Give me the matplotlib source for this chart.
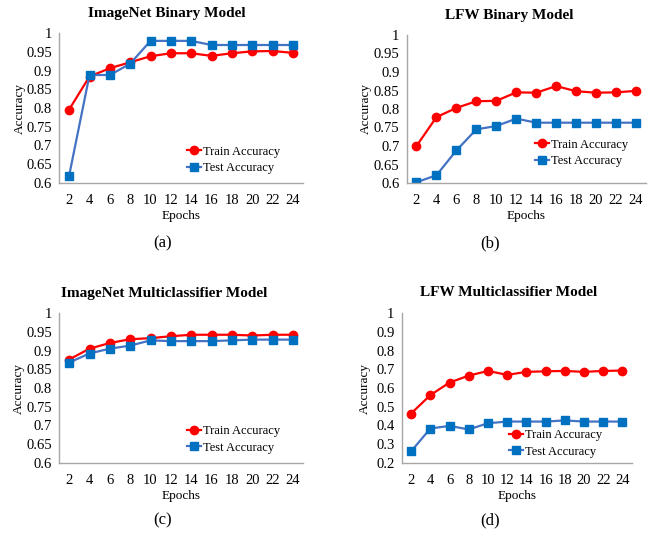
import matplotlib.pyplot as plt

plt.rcParams['font.family'] = ['Liberation Serif', 'DejaVu Serif']

epochs = [2, 4, 6, 8, 10, 12, 14, 16, 18, 20, 22, 24]

# (a) ImageNet binary
inb_train = [0.796, 0.884, 0.906, 0.922, 0.938, 0.946, 0.946, 0.939, 0.946, 0.951, 0.952, 0.947]
inb_test = [0.620, 0.888, 0.888, 0.918, 0.979, 0.979, 0.979, 0.968, 0.968, 0.968, 0.968, 0.968]

# (b) LFW binary
lfb_train = [0.700, 0.778, 0.803, 0.821, 0.822, 0.845, 0.844, 0.862, 0.848, 0.844, 0.845, 0.849]
lfb_test = [0.602, 0.621, 0.688, 0.745, 0.754, 0.774, 0.763, 0.763, 0.763, 0.763, 0.763, 0.763]

# (c) ImageNet multiclassifier
inm_train = [0.876, 0.905, 0.920, 0.930, 0.933, 0.938, 0.942, 0.942, 0.942, 0.940, 0.942, 0.942]
inm_test = [0.868, 0.892, 0.905, 0.913, 0.927, 0.925, 0.925, 0.925, 0.927, 0.929, 0.929, 0.929]

# (d) LFW multiclassifier
lfm_train = [0.464, 0.562, 0.629, 0.666, 0.691, 0.670, 0.686, 0.689, 0.691, 0.686, 0.691, 0.693]
lfm_test = [0.262, 0.384, 0.398, 0.379, 0.412, 0.421, 0.421, 0.421, 0.427, 0.421, 0.421, 0.421]

W, H = 652, 533
fig = plt.figure(figsize=(W / 100, H / 100), dpi=100)

def px_axes(left, right, top, bottom):
    return fig.add_axes([left / W, 1 - bottom / H, (right - left) / W, (bottom - top) / H])

panels = [
    # title, train, test, ylim, yticks, box (px), title_x, legend (px), ylabel offset, caption
    ("ImageNet Binary Model", inb_train, inb_test, (0.6, 1.0),
     [0.6, 0.65, 0.7, 0.75, 0.8, 0.85, 0.9, 0.95, 1], (59, 303, 33, 183), 0.44,
     (187, 160), 39, "(a)", (163, 243)),
    ("LFW Binary Model", lfb_train, lfb_test, (0.6, 1.0),
     [0.6, 0.65, 0.7, 0.75, 0.8, 0.85, 0.9, 0.95, 1], (406.5, 646, 35, 183), 0.428,
     (535, 153), 41, "(b)", (490, 243)),
    ("ImageNet Multiclassifier Model", inm_train, inm_test, (0.6, 1.0),
     [0.6, 0.65, 0.7, 0.75, 0.8, 0.85, 0.9, 0.95, 1], (59, 303, 313, 463), 0.432,
     (187, 439.5), 40, "(c)", (163, 520)),
    ("LFW Multiclassifier Model", lfm_train, lfm_test, (0.2, 1.0),
     [0.2, 0.3, 0.4, 0.5, 0.6, 0.7, 0.8, 0.9, 1], (401.5, 632, 313, 463), 0.466,
     (509, 443.5), 37, "(d)", (490, 520)),
]

for (title, train, test, ylim, yticks, box, tx, leg_xy, yl_off, cap, cap_xy) in panels:
    left, right, top, bottom = box
    ax = px_axes(left, right, top, bottom)
    ax.plot(epochs, train, color='#FF0000', lw=1.6, marker='o', ms=6,
            mfc='#FF0000', mec='#FF0000', label='Train Accuracy')
    ax.plot(epochs, test, color='#4472C4', lw=1.6, marker='s', ms=5.5,
            mfc='#0070C0', mec='#0070C0', label='Test Accuracy')
    ax.set_xlim(1, 25)
    ax.set_ylim(*ylim)
    ax.set_xticks(epochs)
    ax.set_yticks(yticks)
    ax.set_yticklabels([f"{v:g}" for v in yticks])
    ax.tick_params(length=0, labelsize=10.5)
    ax.tick_params(axis='x', pad=8)
    ax.tick_params(axis='y', pad=5)
    for s in ['top', 'right']:
        ax.spines[s].set_visible(False)
    for s in ['left', 'bottom']:
        ax.spines[s].set_color('#A6A6A6')
        ax.spines[s].set_linewidth(1.0)
    ax.text(tx, 1 + 20 / (bottom - top), title, transform=ax.transAxes,
            ha='center', va='center', fontsize=11, fontweight='bold')
    ax.text(0.5, -33 / (bottom - top), "Epochs", transform=ax.transAxes,
            ha='center', va='center', fontsize=9.5)
    ax.text(-yl_off / (right - left), 0.5, "Accuracy", transform=ax.transAxes,
            ha='center', va='center', rotation=90, fontsize=9.5)
    ax.legend(loc='center left', bbox_to_anchor=(leg_xy[0] / W, 1 - leg_xy[1] / H),
              bbox_transform=fig.transFigure, frameon=False, fontsize=9,
              handlelength=1.1, handletextpad=0.15, labelspacing=0.35,
              borderpad=0, borderaxespad=0)
    fig.text(cap_xy[0] / W, 1 - cap_xy[1] / H, cap, ha='center', va='center', fontsize=12)

fig.savefig("out.png", dpi=100)
